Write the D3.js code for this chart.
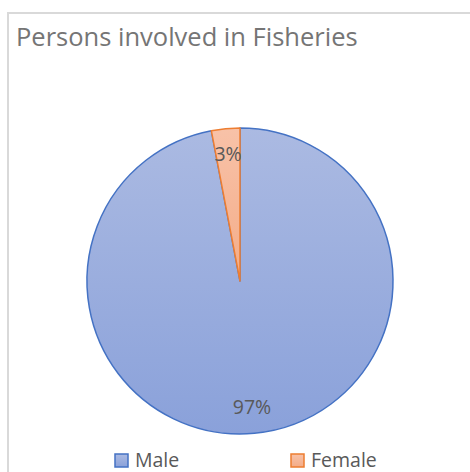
<!DOCTYPE html>
<html><head><meta charset="utf-8">
<script src="https://cdn.jsdelivr.net/npm/d3@7"></script>
<style>body{margin:0;background:#fff}svg{display:block}</style>
</head><body>
<svg id="c" width="470" height="472"></svg>
<script>
const title = "Persons involved in Fisheries";
const categories = ["Male", "Female"];
const values = [97, 3];
const labels = ["97%", "3%"];

const fills = [["#abbae2", "#8aa1da"], ["#f8c2a8", "#f4ac88"]];
const strokes = ["#4472c4", "#ed7d31"];

const svg = d3.select("#c");
svg.append("rect").attr("x", 8).attr("y", 13).attr("width", 480).attr("height", 480)
  .attr("fill", "#fff").attr("stroke", "#d9d9d9").attr("stroke-width", 2);

svg.append("text").attr("x", 16).attr("y", 46).text(title)
  .attr("font-family", "Open Sans").attr("font-size", 25.5).attr("fill", "#757575");

const defs = svg.append("defs");
const cx = 240, cy = 281, R = 153;
fills.forEach((f, i) => {
  const g = defs.append("linearGradient").attr("id", "g" + i)
    .attr("gradientUnits", "objectBoundingBox")
    .attr("x1", 0).attr("y1", 0).attr("x2", 0).attr("y2", 1);
  g.append("stop").attr("offset", 0).attr("stop-color", f[0]);
  g.append("stop").attr("offset", 1).attr("stop-color", f[1]);
});

const pie = d3.pie().sort(null)(values);
const arc = d3.arc().innerRadius(0).outerRadius(R);
const labelArc = d3.arc().innerRadius(R * 0.83).outerRadius(R * 0.83);
const gp = svg.append("g").attr("transform", `translate(${cx},${cy})`);
gp.selectAll("path.s").data(pie).join("path")
  .attr("d", arc)
  .attr("fill", (d, i) => `url(#g${i})`)
  .attr("stroke", (d, i) => strokes[i]).attr("stroke-width", 1.5)
  .attr("stroke-linejoin", "round");

gp.selectAll("text.l").data(pie).join("text")
  .attr("x", d => labelArc.centroid(d)[0])
  .attr("y", d => labelArc.centroid(d)[1])
  .attr("dy", "0.35em").attr("text-anchor", "middle")
  .attr("font-family", "Open Sans").attr("font-size", 19.5).attr("fill", "#595959")
  .text((d, i) => labels[i]);

const legX = [115, 291];
categories.forEach((c, i) => {
  svg.append("rect").attr("x", legX[i]).attr("y", 454).attr("width", 13).attr("height", 13)
    .attr("fill", `url(#g${i})`).attr("stroke", strokes[i]).attr("stroke-width", 1.5);
  svg.append("text").attr("x", legX[i] + 20).attr("y", 467).text(c)
    .attr("font-family", "Open Sans").attr("font-size", 19.5).attr("fill", "#595959");
});
</script>
</body></html>
